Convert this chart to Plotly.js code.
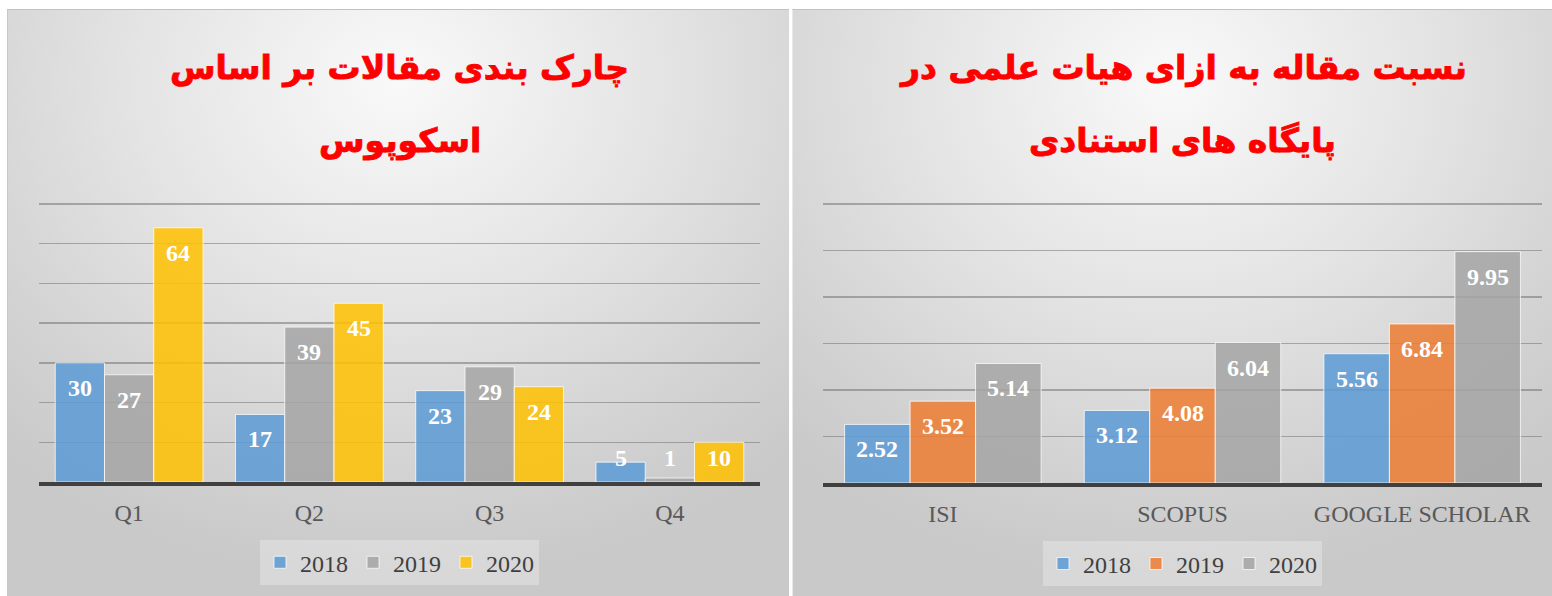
<!DOCTYPE html>
<html>
<head>
<meta charset="utf-8">
<script src="https://cdn.plot.ly/plotly-3.0.1.min.js"></script>
<style>
  html, body { margin: 0; padding: 0; background: #ffffff; width: 1552px; height: 596px; overflow: hidden; }
  .panel {
    position: absolute; top: 9px; height: 587px;
    background: radial-gradient(ellipse 75% 85% at 50% 12%, #f9f9f9 0%, #e4e4e4 45%, #d2d2d2 80%, #c9c9c9 100%);
    border-top: 1px solid #c2c2c2;
    box-sizing: border-box;
  }
  #left { left: 7px; width: 782px; border-left: 1px solid #c8c8c8; }
  #right { left: 792px; width: 760px; border-left: 1px solid #e8e8e8; }
  /* heavier strokes for the red Persian titles */
  text.annotation-text[style*="rgb(255, 0, 0)"] { stroke: #ff0000; stroke-width: 0.9px; }
</style>
</head>
<body>
<div id="left" class="panel"></div>
<div id="right" class="panel"></div>
<script>
// ---- data ----
const years = ['2018', '2019', '2020'];

const leftCategories = ['Q1', 'Q2', 'Q3', 'Q4'];
const left2018 = [30, 17, 23, 5];
const left2019 = [27, 39, 29, 1];
const left2020 = [64, 45, 24, 10];
const leftTitleLines = ['چارک بندی مقالات بر اساس', 'اسکوپوس'];

const rightCategories = ['ISI', 'SCOPUS', 'GOOGLE SCHOLAR'];
const right2018 = [2.52, 3.12, 5.56];
const right2019 = [3.52, 4.08, 6.84];
const right2020 = [5.14, 6.04, 9.95];
const rightTitleLines = ['نسبت مقاله به ازای هیات علمی در', 'پایگاه های استنادی'];

// ---- styling ----
const BLUE = 'rgba(91,155,213,0.85)';
const GRAY = 'rgba(165,165,165,0.85)';
const YELLOW = 'rgba(255,192,0,0.85)';
const ORANGE = 'rgba(237,125,49,0.85)';
const SERIF = 'Liberation Serif, Times New Roman, serif';
const ARABIC = 'DejaVu Sans, sans-serif';

function makeChart(divId, cats, seriesList, colors, yMax, dtick, titleLines, margin, width, height) {
  const bargap = 0.18;
  const plotH = height - margin.t - margin.b;
  // leave 2px headroom so the top gridline is drawn
  const rangeMax = yMax * plotH / (plotH - 2);
  const pxPerUnit = plotH / rangeMax;
  const barW = (1 - bargap) / seriesList.length;

  const traces = seriesList.map((vals, j) => ({
    type: 'bar',
    name: years[j],
    x: cats,
    y: vals,
    marker: { color: colors[j], line: { color: 'rgba(255,255,255,0.75)', width: 1 } },
    hoverinfo: 'skip'
  }));

  const annotations = [];
  seriesList.forEach((vals, j) => {
    vals.forEach((v, i) => {
      const tall = v * pxPerUnit >= 50;
      annotations.push({
        xref: 'x', yref: 'y',
        x: i + (j - (seriesList.length - 1) / 2) * barW,
        y: tall ? v : 0,
        yshift: tall ? -25 : 24,
        yanchor: 'middle', xanchor: 'center',
        text: '<b>' + String(v) + '</b>',
        showarrow: false,
        font: { family: SERIF, size: 24, color: '#ffffff' }
      });
    });
  });

  const titleY = [56, 130];
  titleLines.forEach((line, k) => {
    annotations.push({
      xref: 'paper', yref: 'paper',
      x: 0.5, y: (height - margin.b - titleY[k]) / plotH,
      xanchor: 'center', yanchor: 'middle',
      text: '<b>' + line + '</b>',
      showarrow: false,
      font: { family: ARABIC, size: 33, color: '#ff0000' }
    });
  });

  const layout = {
    width: width, height: height,
    margin: margin,
    font: { family: SERIF, size: 24, color: '#404040' },
    paper_bgcolor: 'rgba(0,0,0,0)',
    plot_bgcolor: 'rgba(0,0,0,0)',
    barmode: 'group',
    bargap: bargap,
    bargroupgap: 0,
    showlegend: true,
    hovermode: false,
    xaxis: {
      type: 'category',
      showline: true, linecolor: '#404040', linewidth: 4,
      ticks: '', showgrid: false, zeroline: false,
      tickfont: { family: SERIF, size: 24, color: '#595959' },
      ticklabelstandoff: 6,
      fixedrange: true
    },
    yaxis: {
      range: [0, rangeMax], dtick: dtick,
      showticklabels: false, ticks: '',
      showgrid: true, gridcolor: 'rgba(105,105,105,0.5)', gridwidth: 1.5,
      zeroline: false, showline: false,
      fixedrange: true
    },
    legend: {
      orientation: 'h',
      x: 0.5, xanchor: 'center',
      y: -59 / plotH, yanchor: 'top',
      bgcolor: 'rgba(255,255,255,0.28)',
      font: { family: SERIF, size: 24, color: '#404040' },
      itemwidth: 30,
      traceorder: 'normal'
    },
    annotations: annotations
  };

  Plotly.newPlot(divId, traces, layout, { staticPlot: true, displayModeBar: false });
}

makeChart('left', leftCategories, [left2018, left2019, left2020], [BLUE, GRAY, YELLOW],
  70, 10, leftTitleLines, { l: 31, r: 30, t: 192, b: 111 }, 782, 587);

makeChart('right', rightCategories, [right2018, right2019, right2020], [BLUE, ORANGE, GRAY],
  12, 2, rightTitleLines, { l: 30, r: 11, t: 192, b: 111 }, 760, 587);
</script>
</body>
</html>
